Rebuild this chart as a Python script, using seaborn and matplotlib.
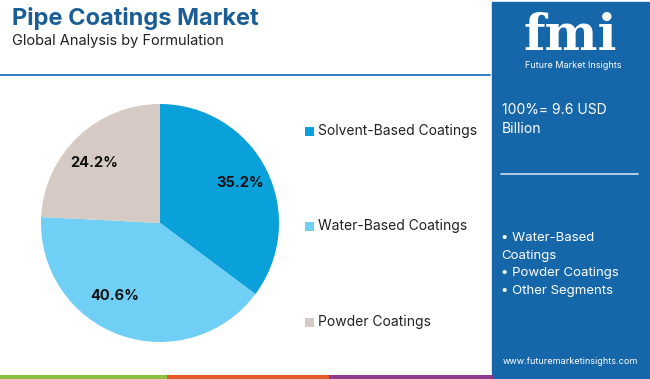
import matplotlib
matplotlib.use("Agg")
import matplotlib.pyplot as plt
import seaborn as sns
import numpy as np
from matplotlib.patches import Rectangle
from matplotlib.lines import Line2D

categories = ["Solvent-Based Coatings", "Water-Based Coatings", "Powder Coatings"]
shares = [35.2, 40.6, 24.2]
colors = ["#0aa0da", "#6fcff4", "#d5cbc4"]
pct_labels = ["35.2%", "40.6%", "24.2%"]
title = "Pipe Coatings Market"
subtitle = "Global Analysis by Formulation"
total_text = ["100%= 9.6 USD", "Billion"]
bullets = ["• Water-Based", "Coatings", "• Powder Coatings", "• Other Segments"]

sns.set_theme(style="white")
plt.rcParams['font.family'] = ['Inter', 'DejaVu Sans']

W, H = 650, 379
fig = plt.figure(figsize=(W / 100, H / 100), dpi=100)
fig.patch.set_facecolor("white")

def fx(x):
    return x / W

def fy(y):
    return 1 - y / H

bg = fig.add_axes([0, 0, 1, 1])
bg.set_xlim(0, W)
bg.set_ylim(H, 0)
bg.axis("off")

bg.add_patch(Rectangle((492, 2), 157, 377, color="#1667a9", zorder=1))
bg.add_line(Line2D([0, 490], [74.5, 74.5], color="#2f7fc4", lw=1.4))
bg.add_patch(Rectangle((0, 375), 167, 4, color="#8cbf3f", lw=0))
bg.add_patch(Rectangle((167, 375), 162, 4, color="#e45a26", lw=0))
bg.add_patch(Rectangle((329, 375), 164, 4, color="#8e3b8f", lw=0))
bg.add_line(Line2D([501, 638], [174, 174], color="#cfe0f0", lw=1.2, zorder=2))

fig.text(fx(12), fy(18), title, fontsize=17, fontweight="bold", color="#1b5e96",
         va="center", ha="left")
fig.text(fx(12), fy(41), subtitle, fontsize=10.5, color="#222222",
         va="center", ha="left")

fig.text(fx(570), fy(37), "fmi", fontsize=36, fontweight="bold", color="white",
         ha="center", va="center", family=["DejaVu Serif"])
fig.text(fx(573), fy(66), "Future Market Insights", fontsize=6.5, color="white",
         ha="center", va="center")
fig.text(fx(502), fy(110), total_text[0], fontsize=10, color="white", ha="left", va="center")
fig.text(fx(502), fy(129), total_text[1], fontsize=10, color="white", ha="left", va="center")
for i, b in enumerate(bullets):
    fig.text(fx(501), fy(238 + i * 17.7), b, fontsize=9.5, color="white", ha="left", va="center")
fig.text(fx(570), fy(362), "www.futuremarketinsights.com", fontsize=6.5, color="white",
         ha="center", va="center")

cx, cy, r = 160, 223, 119
pie_ax = fig.add_axes([fx(cx - r), fy(cy + r), 2 * r / W, 2 * r / H])
wedges, _ = pie_ax.pie(shares, colors=colors, startangle=90, counterclock=False,
                       radius=1.0, wedgeprops=dict(linewidth=0))
pie_ax.set_aspect("equal")
pie_ax.set_xlim(-1, 1)
pie_ax.set_ylim(-1, 1)
angle_offsets = [0, -12, 4]
dists = [0.75, 0.72, 0.75]
for w, lab, off, d in zip(wedges, pct_labels, angle_offsets, dists):
    ang = np.deg2rad((w.theta1 + w.theta2) / 2 + off)
    pie_ax.text(d * np.cos(ang), d * np.sin(ang), lab, ha="center", va="center",
                fontsize=10.5, fontweight="bold", color="#111111")

leg_y = [131, 226, 322]
for cat, col, y in zip(categories, colors, leg_y):
    bg.add_patch(Rectangle((305, y - 4.5), 9, 9, color=col, lw=0))
    fig.text(fx(318), fy(y), cat, fontsize=10, color="#222222", ha="left", va="center")

fig.savefig("out.png", dpi=100)
